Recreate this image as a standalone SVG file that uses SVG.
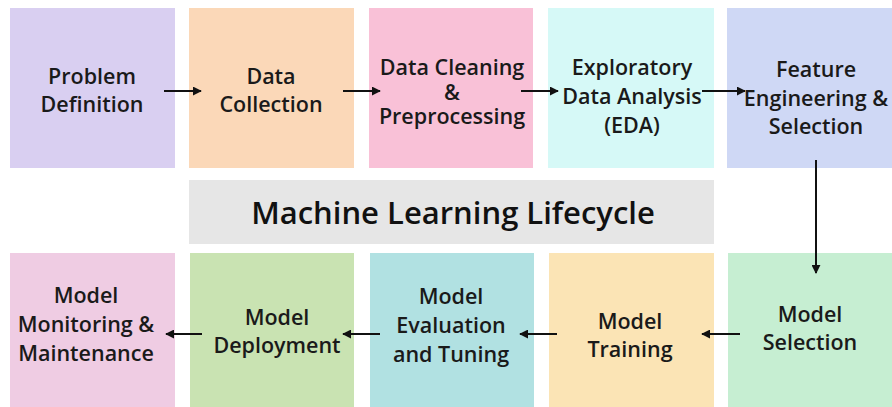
<svg xmlns="http://www.w3.org/2000/svg" width="892" height="407" viewBox="0 0 892 407">
  <defs>
    <marker id="arrow" viewBox="0 0 10 10" refX="9" refY="5" markerWidth="9" markerHeight="9" markerUnits="userSpaceOnUse" orient="auto">
      <path d="M0,0 L10,5 L0,10 z" fill="#111"/>
    </marker>
    <style>
      .lbl { font-family: "Open Sans", "Noto Sans", sans-serif; font-weight: 600; font-size: 21.5px; fill: #1a1a1a; text-anchor: middle; }
      .title { font-family: "Open Sans", "Noto Sans", sans-serif; font-weight: 600; font-size: 31px; fill: #111; text-anchor: middle; }
      .edge { stroke: #111; stroke-width: 2; fill: none; marker-end: url(#arrow); }
    </style>
  </defs>
  <rect width="892" height="407" fill="#ffffff"/>

  <!-- title band -->
  <g id="title">
    <rect x="189" y="180" width="525" height="64" fill="#e6e6e6"/>
    <text class="title" x="453" y="224">Machine Learning Lifecycle</text>
  </g>

  <!-- top row -->
  <g id="problem-definition">
    <rect x="10" y="8" width="165" height="160" fill="#d9cff1"/>
    <text class="lbl" x="92" y="84">Problem</text>
    <text class="lbl" x="92" y="112">Definition</text>
  </g>
  <g id="data-collection">
    <rect x="189" y="8" width="165" height="160" fill="#fbd8b8"/>
    <text class="lbl" x="271" y="84">Data</text>
    <text class="lbl" x="271" y="112">Collection</text>
  </g>
  <g id="data-cleaning">
    <rect x="369" y="8" width="164" height="160" fill="#f9c1d7"/>
    <text class="lbl" x="452" y="75">Data Cleaning</text>
    <text class="lbl" x="452" y="100">&amp;</text>
    <text class="lbl" x="452" y="124">Preprocessing</text>
  </g>
  <g id="eda">
    <rect x="548" y="8" width="166" height="160" fill="#d6f9f7"/>
    <text class="lbl" x="632" y="75">Exploratory</text>
    <text class="lbl" x="632" y="104">Data Analysis</text>
    <text class="lbl" x="632" y="133">(EDA)</text>
  </g>
  <g id="feature-engineering">
    <rect x="727" y="8" width="165" height="160" fill="#cfd8f5"/>
    <text class="lbl" x="816" y="77">Feature</text>
    <text class="lbl" x="816" y="106">Engineering &amp;</text>
    <text class="lbl" x="816" y="134">Selection</text>
  </g>

  <!-- bottom row -->
  <g id="model-monitoring">
    <rect x="10" y="253" width="165" height="154" fill="#efcce3"/>
    <text class="lbl" x="86" y="303">Model</text>
    <text class="lbl" x="86" y="332">Monitoring &amp;</text>
    <text class="lbl" x="86" y="361">Maintenance</text>
  </g>
  <g id="model-deployment">
    <rect x="190" y="253" width="164" height="154" fill="#c9e3b2"/>
    <text class="lbl" x="277" y="325">Model</text>
    <text class="lbl" x="277" y="353">Deployment</text>
  </g>
  <g id="model-evaluation">
    <rect x="370" y="253" width="164" height="154" fill="#b1e1e2"/>
    <text class="lbl" x="451" y="304">Model</text>
    <text class="lbl" x="451" y="333">Evaluation</text>
    <text class="lbl" x="451" y="362">and Tuning</text>
  </g>
  <g id="model-training">
    <rect x="549" y="253" width="165" height="154" fill="#fbe4b5"/>
    <text class="lbl" x="630" y="329">Model</text>
    <text class="lbl" x="630" y="357">Training</text>
  </g>
  <g id="model-selection">
    <rect x="728" y="253" width="164" height="154" fill="#c6eed2"/>
    <text class="lbl" x="810" y="322">Model</text>
    <text class="lbl" x="810" y="350">Selection</text>
  </g>

  <!-- connectors -->
  <g id="connectors">
    <line class="edge" x1="164" y1="91" x2="201" y2="91"/>
    <line class="edge" x1="343" y1="91" x2="380" y2="91"/>
    <line class="edge" x1="521" y1="91" x2="558" y2="91"/>
    <line class="edge" x1="702" y1="91" x2="745" y2="91"/>
    <line class="edge" x1="816" y1="160" x2="816" y2="273"/>
    <line class="edge" x1="740" y1="334" x2="702" y2="334"/>
    <line class="edge" x1="557" y1="334" x2="520" y2="334"/>
    <line class="edge" x1="380" y1="334" x2="343" y2="334"/>
    <line class="edge" x1="202" y1="334" x2="166" y2="334"/>
  </g>
</svg>
